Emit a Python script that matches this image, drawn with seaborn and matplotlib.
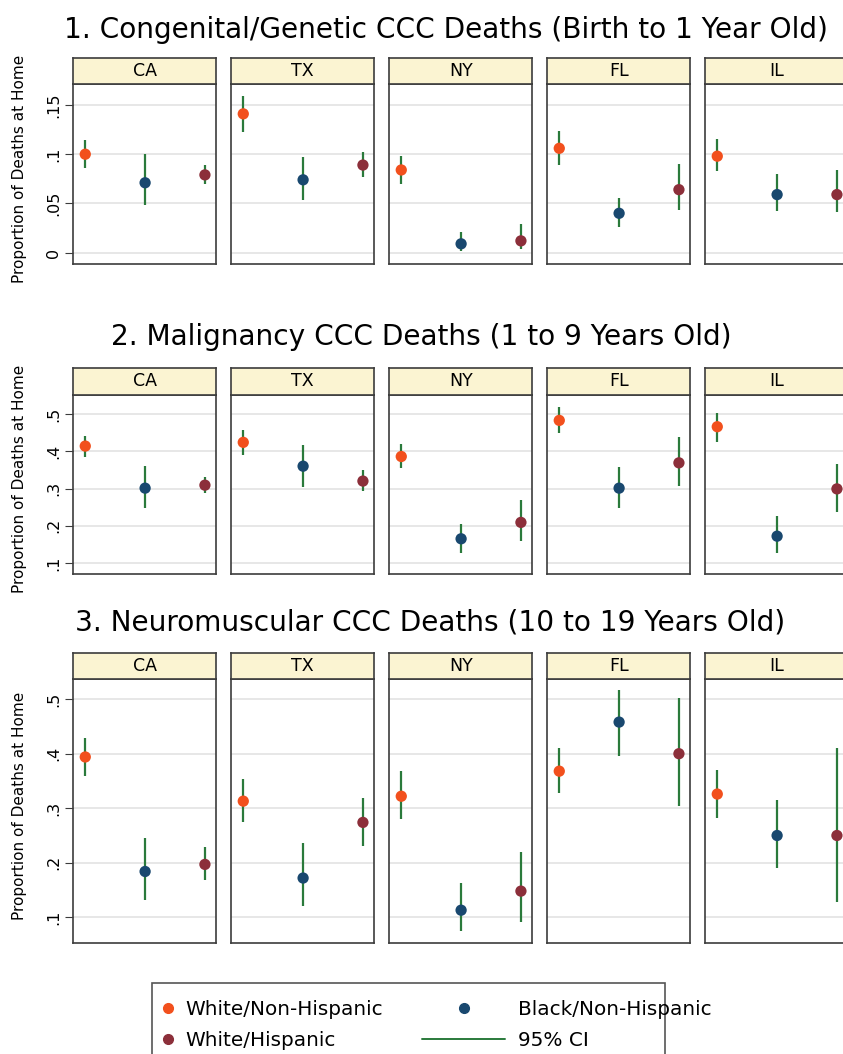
import numpy as np
import pandas as pd
import seaborn as sns
import matplotlib.pyplot as plt
from matplotlib.lines import Line2D
from matplotlib.patches import Rectangle

# values (proportion of deaths at home, with 95% CI)
states = ["CA", "TX", "NY", "FL", "IL"]
groups = ["White/Non-Hispanic", "Black/Non-Hispanic", "White/Hispanic"]
titles = ["1. Congenital/Genetic CCC Deaths (Birth to 1 Year Old)",
          "2. Malignancy CCC Deaths (1 to 9 Years Old)",
          "3. Neuromuscular CCC Deaths (10 to 19 Years Old)"]

congenital_est = [[0.100, 0.071, 0.079], [0.141, 0.074, 0.089], [0.084, 0.009, 0.012],
                  [0.106, 0.040, 0.064], [0.098, 0.059, 0.059]]
congenital_lo = [[0.086, 0.048, 0.070], [0.123, 0.054, 0.077], [0.070, 0.002, 0.004],
                 [0.089, 0.026, 0.043], [0.083, 0.042, 0.041]]
congenital_hi = [[0.114, 0.100, 0.089], [0.159, 0.097, 0.102], [0.098, 0.021, 0.029],
                 [0.124, 0.056, 0.090], [0.115, 0.080, 0.084]]

malig_est = [[0.414, 0.301, 0.309], [0.424, 0.360, 0.320], [0.386, 0.165, 0.209],
             [0.483, 0.301, 0.369], [0.466, 0.172, 0.299]]
malig_lo = [[0.385, 0.249, 0.288], [0.391, 0.305, 0.292], [0.355, 0.128, 0.160],
            [0.449, 0.249, 0.306], [0.426, 0.126, 0.236]]
malig_hi = [[0.440, 0.360, 0.331], [0.456, 0.417, 0.350], [0.419, 0.206, 0.268],
            [0.520, 0.359, 0.438], [0.503, 0.226, 0.367]]

neuro_est = [[0.394, 0.184, 0.197], [0.313, 0.172, 0.274], [0.322, 0.113, 0.148],
             [0.368, 0.458, 0.400], [0.326, 0.250, 0.250]]
neuro_lo = [[0.359, 0.131, 0.168], [0.275, 0.120, 0.231], [0.280, 0.074, 0.092],
            [0.328, 0.396, 0.305], [0.283, 0.191, 0.128]]
neuro_hi = [[0.428, 0.246, 0.228], [0.353, 0.236, 0.318], [0.368, 0.163, 0.219],
            [0.410, 0.517, 0.503], [0.370, 0.315, 0.411]]

yticks = [[0, 0.05, 0.1, 0.15], [0.1, 0.2, 0.3, 0.4, 0.5], [0.1, 0.2, 0.3, 0.4, 0.5]]
ytick_labels = [["0", ".05", ".1", ".15"], [".1", ".2", ".3", ".4", ".5"],
                [".1", ".2", ".3", ".4", ".5"]]

panels = [(congenital_est, congenital_lo, congenital_hi),
          (malig_est, malig_lo, malig_hi),
          (neuro_est, neuro_lo, neuro_hi)]

colors = {"White/Non-Hispanic": "#F2501D", "Black/Non-Hispanic": "#19486F",
          "White/Hispanic": "#8C2F3A"}
ci_color = "#2A7A3B"
strip_color = "#FBF4D2"
frame_color = "#3C3C3C"

sns.set_style("white")
plt.rcParams["font.family"] = ["DejaVu Sans"]
plt.rcParams["text.color"] = "black"
plt.rcParams["ytick.color"] = "black"

W, H = 843, 1054
fig = plt.figure(figsize=(W / 100, H / 100), dpi=100)


def rect(x0, y0, x1, y1):
    return [x0 / W, 1 - y1 / H, (x1 - x0) / W, (y1 - y0) / H]


lefts = [73.3 + 158 * i for i in range(5)]
pw = 143
rows_px = [(58, 84.3, 264.3), (368.3, 394.7, 574.3), (652.7, 679, 942.7)]
ylims = [(-0.0118, 0.171), (0.0696, 0.552), (0.0534, 0.537)]
title_pos = [(446, 30), (421, 337), (430, 622)]

for r, (est, lo, hi) in enumerate(panels):
    st, sb, bot = rows_px[r]
    for c, state in enumerate(states):
        df = pd.DataFrame({"group": groups, "pos": [0, 1, 2],
                           "est": est[c], "lo": lo[c], "hi": hi[c]})
        ax = fig.add_axes(rect(lefts[c], sb, lefts[c] + pw, bot))
        ax.vlines(df["pos"], df["lo"], df["hi"], color=ci_color, lw=1.6, zorder=2)
        sns.scatterplot(data=df, x="pos", y="est", hue="group", palette=colors,
                        s=66, edgecolor="none", legend=False, ax=ax, zorder=3)
        ax.set_xlim(-0.2, 2.19)
        ax.set_ylim(*ylims[r])
        ax.set_yticks(yticks[r])
        ax.yaxis.grid(True, color="#E3E3E3", lw=1.2)
        ax.set_axisbelow(True)
        ax.set_xticks([])
        ax.set_xlabel("")
        ax.set_ylabel("")
        for sp in ax.spines.values():
            sp.set_color(frame_color)
            sp.set_linewidth(1.2)
        if c == 0:
            ax.set_yticklabels(ytick_labels[r], rotation=90, va="center", fontsize=11.5)
            ax.tick_params(axis="y", left=True, length=6, width=0.8,
                           color=frame_color, pad=3)
        else:
            ax.tick_params(axis="y", left=False, labelleft=False)
        # strip header
        sax = fig.add_axes(rect(lefts[c], st, lefts[c] + pw, sb))
        sax.set_facecolor(strip_color)
        sax.set_xticks([])
        sax.set_yticks([])
        for sp in sax.spines.values():
            sp.set_color(frame_color)
            sp.set_linewidth(1.2)
        sax.text(0.5, 0.5, state, ha="center", va="center", fontsize=12.5,
                 transform=sax.transAxes)
    tx, ty = title_pos[r]
    fig.text(tx / W, 1 - ty / H, titles[r], ha="center", va="center", fontsize=20.2)
    fig.text(20 / W, 1 - ((st + bot) / 2 + 8) / H, "Proportion of Deaths at Home",
             rotation=90, ha="center", va="center", fontsize=11)

# legend box (runs past the bottom edge like the reference)
fig.patches.append(Rectangle((152 / W, -0.02), (665 - 152) / W, 0.02 + 1 - 983 / H,
                             transform=fig.transFigure, fill=False,
                             edgecolor="#555555", lw=1.2))

h1 = [Line2D([], [], ls="none", marker="o", ms=7, color=colors[groups[0]]),
      Line2D([], [], ls="none", marker="o", ms=7, color=colors[groups[2]])]
fig.legend(h1, [groups[0], groups[2]], loc="upper left",
           bbox_to_anchor=(160 / W, 1 - 1000 / H), frameon=False, fontsize=14.4,
           handlelength=0.8, handletextpad=0.45, labelspacing=0.6,
           borderpad=0, borderaxespad=0)
h2 = [Line2D([], [], ls="none", marker="o", ms=7, color=colors[groups[1]]),
      Line2D([], [], color=ci_color, lw=1.4)]
fig.legend(h2, [groups[1], "95% CI"], loc="upper left",
           bbox_to_anchor=(422 / W, 1 - 1000 / H), frameon=False, fontsize=14.4,
           handlelength=4.15, handletextpad=0.65, labelspacing=0.6,
           borderpad=0, borderaxespad=0)

fig.savefig("out.png", dpi=100)
